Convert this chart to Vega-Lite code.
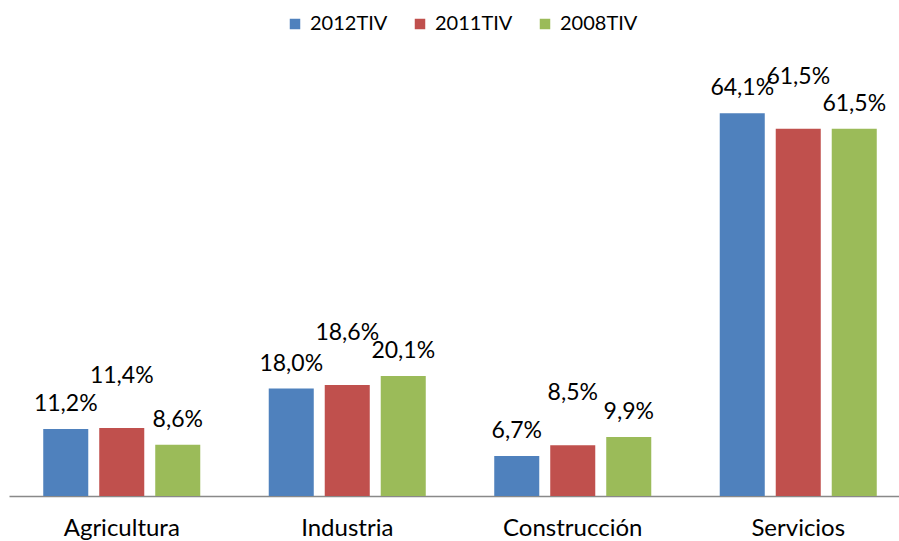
{
  "$schema": "https://vega.github.io/schema/vega-lite/v6.json",
  "width": 890,
  "height": 418,
  "autosize": {"type": "none"},
  "padding": {"left": 9, "top": 78, "right": 0, "bottom": 45},
  "background": "white",
  "config": {
    "view": {"stroke": null},
    "font": "Lato",
    "locale": {"number": {"decimal": ",", "thousands": ".", "grouping": [3], "currency": ["", " €"]}}
  },
  "data": {
    "values": [
      {"sector": "Agricultura", "serie": "2012TIV", "valor": 0.112},
      {"sector": "Agricultura", "serie": "2011TIV", "valor": 0.114},
      {"sector": "Agricultura", "serie": "2008TIV", "valor": 0.086},
      {"sector": "Industria", "serie": "2012TIV", "valor": 0.180},
      {"sector": "Industria", "serie": "2011TIV", "valor": 0.186},
      {"sector": "Industria", "serie": "2008TIV", "valor": 0.201},
      {"sector": "Construcción", "serie": "2012TIV", "valor": 0.067},
      {"sector": "Construcción", "serie": "2011TIV", "valor": 0.085},
      {"sector": "Construcción", "serie": "2008TIV", "valor": 0.099},
      {"sector": "Servicios", "serie": "2012TIV", "valor": 0.641},
      {"sector": "Servicios", "serie": "2011TIV", "valor": 0.615},
      {"sector": "Servicios", "serie": "2008TIV", "valor": 0.615}
    ]
  },
  "encoding": {
    "x": {
      "field": "sector",
      "type": "nominal",
      "sort": ["Agricultura", "Industria", "Construcción", "Servicios"],
      "scale": {"range": [0, 902], "paddingInner": 0.255, "paddingOuter": 0.1275},
      "axis": {
        "title": null,
        "labelAngle": 0,
        "ticks": false,
        "grid": false,
        "domainColor": "#898989",
        "domainWidth": 1.5,
        "labelFontSize": 24,
        "labelColor": "#000000",
        "labelPadding": 20
      }
    },
    "xOffset": {
      "field": "serie",
      "sort": ["2012TIV", "2011TIV", "2008TIV"],
      "scale": {"paddingInner": 0.196, "paddingOuter": 0.098}
    },
    "y": {
      "field": "valor",
      "type": "quantitative",
      "scale": {"domain": [0, 0.7]},
      "axis": null
    }
  },
  "layer": [
    {
      "mark": {"type": "bar"},
      "encoding": {
        "color": {
          "field": "serie",
          "type": "nominal",
          "sort": ["2012TIV", "2011TIV", "2008TIV"],
          "scale": {"range": ["#4F81BD", "#C0504D", "#9BBB59"]},
          "legend": {
            "title": null,
            "orient": "none",
            "direction": "horizontal",
            "legendX": 276,
            "legendY": -64,
            "symbolType": "square",
            "symbolSize": 110,
            "symbolStrokeWidth": 0,
            "labelFontSize": 20,
            "labelColor": "#000000",
            "labelOffset": 5,
            "columnPadding": 22
          }
        }
      }
    },
    {
      "transform": [{"filter": "datum.serie != '2011TIV'"}],
      "mark": {"type": "text", "dy": -25, "baseline": "middle", "fontSize": 23, "color": "#000000"},
      "encoding": {"text": {"field": "valor", "type": "quantitative", "format": ".1%"}}
    },
    {
      "transform": [{"filter": "datum.serie == '2011TIV'"}],
      "mark": {"type": "text", "dy": -52, "baseline": "middle", "fontSize": 23, "color": "#000000"},
      "encoding": {"text": {"field": "valor", "type": "quantitative", "format": ".1%"}}
    }
  ]
}
